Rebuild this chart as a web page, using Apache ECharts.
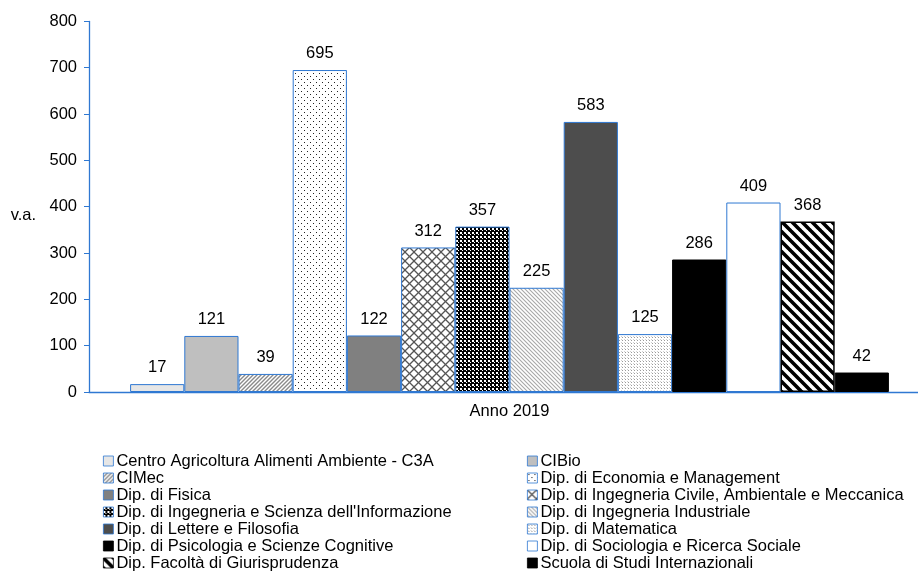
<!DOCTYPE html>
<html>
<head>
<meta charset="utf-8">
<script src="https://cdn.jsdelivr.net/npm/echarts@6/dist/echarts.min.js"></script>
<style>html,body{margin:0;padding:0;background:#fff}#c{width:918px;height:574px}</style>
</head>
<body>
<div id="c"></div>
<script>
const category = ['Anno 2019'];
const seriesNames = [
  'Centro Agricoltura Alimenti Ambiente - C3A',
  'CIBio',
  'CIMec',
  'Dip. di Economia e Management',
  'Dip. di Fisica',
  'Dip. di Ingegneria Civile, Ambientale e Meccanica',
  "Dip. di Ingegneria e Scienza dell'Informazione",
  'Dip. di Ingegneria Industriale',
  'Dip. di Lettere e Filosofia',
  'Dip. di Matematica',
  'Dip. di Psicologia e Scienze Cognitive',
  'Dip. di Sociologia e Ricerca Sociale',
  'Dip. Facoltà di Giurisprudenza',
  'Scuola di Studi Internazionali'
];
const seriesValues = [17, 121, 39, 695, 122, 312, 357, 225, 583, 125, 286, 409, 368, 42];
const yTicks = [0, 100, 200, 300, 400, 500, 600, 700, 800];

function pat(w, h, draw) {
  const c = document.createElement('canvas');
  c.width = w; c.height = h;
  const x = c.getContext('2d');
  x.fillStyle = '#fff'; x.fillRect(0, 0, w, h);
  draw(x, w, h);
  return { image: c, repeat: 'repeat' };
}
function fwd(x, s, col, lw) { // "/"
  x.strokeStyle = col; x.lineWidth = lw; x.beginPath();
  x.moveTo(-1, s + 1); x.lineTo(s + 1, -1);
  x.moveTo(-1, 1); x.lineTo(1, -1);
  x.moveTo(s - 1, s + 1); x.lineTo(s + 1, s - 1);
  x.stroke();
}
function back(x, s, col, lw) { // "\"
  x.strokeStyle = col; x.lineWidth = lw; x.beginPath();
  x.moveTo(-1, -1); x.lineTo(s + 1, s + 1);
  x.moveTo(s - 1, -1); x.lineTo(s + 1, 1);
  x.moveTo(-1, s - 1); x.lineTo(1, s + 1);
  x.stroke();
}
const BLUE = '#2f78d2';
const fills = [
  '#e6e6e6',
  '#bfbfbf',
  pat(4, 4, (x, w) => fwd(x, w, '#8a8a8a', 1.4)),
  pat(6, 6, (x) => { x.fillStyle = '#222'; x.fillRect(1, 1, 1, 1); x.fillRect(4, 4, 1, 1); }),
  '#808080',
  pat(9, 9, (x, w) => { fwd(x, w, '#555', 1.3); back(x, w, '#555', 1.3); }),
  pat(4, 4, (x) => { x.fillStyle = '#000'; x.fillRect(0, 0, 4, 4); x.fillStyle = '#fff'; x.fillRect(0, 0, 2, 2); x.fillRect(2, 2, 1, 1); }),
  pat(4, 4, (x, w) => back(x, w, '#a8a8a8', 1.1)),
  '#4d4d4d',
  pat(3, 3, (x) => { x.fillStyle = '#9a9a9a'; x.fillRect(1, 1, 1, 1); x.fillStyle = '#d0d0d0'; x.fillRect(0, 0, 1, 1); }),
  '#000000',
  '#ffffff',
  pat(10, 10, (x, w) => back(x, w, '#000', 3.6)),
  '#000000'
];
const borders = [BLUE, BLUE, BLUE, BLUE, BLUE, BLUE, BLUE, BLUE, BLUE, BLUE, '#000', BLUE, '#000', '#000'];

const series = seriesNames.map((n, i) => ({
  name: n,
  type: 'bar',
  data: [seriesValues[i]],
  barWidth: 54.2,
  barGap: '0%',
  itemStyle: { color: fills[i], borderColor: borders[i], borderWidth: i === 12 ? 1.5 : 1 },
  label: { show: true, position: 'top', distance: 8, color: '#000', fontSize: 16.5, fontFamily: 'Liberation Sans, Arial, sans-serif' },
  emphasis: { disabled: true }
}));

const leftNames = seriesNames.filter((_, i) => i % 2 === 0);
const rightNames = seriesNames.filter((_, i) => i % 2 === 1);
const legendCommon = {
  orient: 'vertical', top: 452.5, height: 200, padding: 0, itemWidth: 10, itemHeight: 10, itemGap: 0,
  selectedMode: false, icon: 'rect',
  itemStyle: { borderWidth: 0.8 },
  textStyle: { fontSize: 16.5, lineHeight: 17, color: '#000', padding: [0, 0, 0, -2], fontFamily: 'Liberation Sans, Arial, sans-serif' }
};

const chart = echarts.init(document.getElementById('c'), null, { renderer: 'canvas' });
chart.setOption({
  animation: false,
  textStyle: { fontFamily: 'Liberation Sans, Arial, sans-serif' },
  grid: { left: 89, width: 841, top: 21.4, bottom: 182, containLabel: false, outerBoundsMode: 'none' },
  legend: [
    Object.assign({ left: 103, data: leftNames }, legendCommon),
    Object.assign({ left: 527, data: rightNames }, legendCommon)
  ],
  xAxis: {
    type: 'category', data: category,
    axisLine: { lineStyle: { color: BLUE, width: 1.3 } },
    axisTick: { show: false },
    axisLabel: { color: '#000', fontSize: 16.5, margin: 11 }
  },
  yAxis: {
    type: 'value', min: yTicks[0], max: yTicks[yTicks.length - 1], interval: 100,
    name: 'v.a.', nameLocation: 'middle', nameRotate: 0, nameGap: 53,
    nameTextStyle: { color: '#000', fontSize: 16.5, verticalAlign: 'top' },
    axisLine: { show: true, lineStyle: { color: BLUE, width: 1.3 } },
    axisTick: { show: true, length: 5, lineStyle: { color: BLUE } },
    axisLabel: { color: '#000', fontSize: 16.5, margin: 12 },
    splitLine: { show: false }
  },
  series: series
});
</script>
</body>
</html>
